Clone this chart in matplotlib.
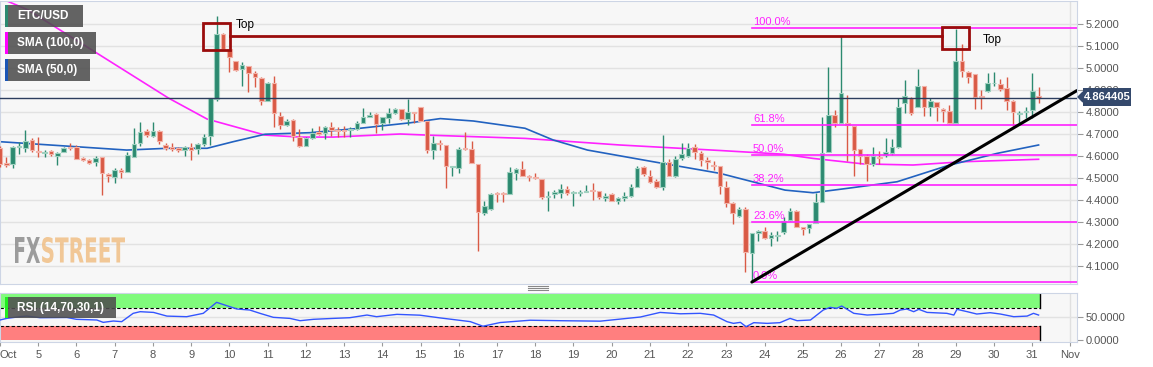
import numpy as np
import matplotlib.pyplot as plt
from matplotlib.patches import Rectangle, PathPatch
from matplotlib.lines import Line2D
from matplotlib.textpath import TextPath
from matplotlib.font_manager import FontProperties
from matplotlib.transforms import Affine2D

plt.rcParams['font.family'] = ['Liberation Sans', 'DejaVu Sans']

# 4h candles, ETC/USD, starting Oct 4 00:00
opens = [4.635, 4.570, 4.564, 4.639, 4.636, 4.673, 4.624, 4.612, 4.621, 4.598,
         4.617, 4.642, 4.639, 4.589, 4.580, 4.571, 4.594, 4.518, 4.503, 4.538,
         4.527, 4.594, 4.658, 4.715, 4.692, 4.715, 4.652, 4.639, 4.636, 4.627,
         4.642, 4.632, 4.655, 4.692, 4.859, 5.155, 5.085, 5.030, 4.995, 5.008,
         4.979, 4.955, 4.852, 4.930, 4.782, 4.742, 4.764, 4.688, 4.647, 4.682,
         4.708, 4.703, 4.733, 4.720, 4.718, 4.718, 4.721, 4.751, 4.779, 4.791,
         4.748, 4.773, 4.797, 4.812, 4.768, 4.798, 4.821, 4.758, 4.627, 4.659,
         4.648, 4.549, 4.544, 4.635, 4.630, 4.564, 4.339, 4.359, 4.430, 4.430,
         4.427, 4.521, 4.541, 4.508, 4.503, 4.495, 4.415, 4.427, 4.430, 4.450,
         4.433, 4.433, 4.438, 4.445, 4.439, 4.409, 4.427, 4.394, 4.409, 4.420,
         4.458, 4.548, 4.511, 4.488, 4.458, 4.571, 4.508, 4.589, 4.600, 4.639,
         4.612, 4.582, 4.561, 4.555, 4.461, 4.385, 4.329, 4.358, 4.158, 4.248,
         4.260, 4.226, 4.236, 4.253, 4.309, 4.352, 4.279, 4.273, 4.295, 4.389,
         4.617, 4.786, 4.748, 4.750, 4.735, 4.633, 4.600, 4.564, 4.597, 4.603,
         4.614, 4.642, 4.839, 4.864, 4.821, 4.918, 4.821, 4.844, 4.815, 4.806,
         4.748, 5.033, 4.980, 4.973, 4.874, 4.894, 4.930, 4.927, 4.909, 4.848,
         4.791, 4.802, 4.809, 4.874]
highs = [4.647, 4.594, 4.647, 4.662, 4.720, 4.680, 4.685, 4.627, 4.627, 4.617,
         4.642, 4.658, 4.650, 4.594, 4.586, 4.601, 4.597, 4.521, 4.545, 4.545,
         4.617, 4.727, 4.753, 4.723, 4.756, 4.718, 4.661, 4.659, 4.642, 4.647,
         4.658, 4.658, 4.700, 4.862, 5.238, 5.158, 5.088, 5.033, 5.026, 5.011,
         4.988, 4.958, 4.935, 4.965, 4.798, 4.767, 4.767, 4.723, 4.685, 4.727,
         4.738, 4.738, 4.753, 4.730, 4.738, 4.730, 4.761, 4.818, 4.802, 4.794,
         4.779, 4.818, 4.817, 4.812, 4.859, 4.798, 4.824, 4.761, 4.689, 4.673,
         4.648, 4.552, 4.642, 4.708, 4.667, 4.564, 4.394, 4.430, 4.435, 4.435,
         4.552, 4.545, 4.576, 4.514, 4.521, 4.495, 4.442, 4.445, 4.473, 4.465,
         4.442, 4.445, 4.470, 4.476, 4.442, 4.430, 4.430, 4.412, 4.435, 4.473,
         4.556, 4.556, 4.536, 4.495, 4.697, 4.586, 4.601, 4.658, 4.659, 4.655,
         4.621, 4.594, 4.576, 4.555, 4.488, 4.389, 4.367, 4.367, 4.248, 4.264,
         4.279, 4.253, 4.261, 4.321, 4.364, 4.355, 4.279, 4.291, 4.430, 4.779,
         5.006, 4.809, 5.147, 4.879, 4.735, 4.633, 4.609, 4.639, 4.621, 4.682,
         4.677, 4.864, 4.945, 4.867, 4.995, 4.918, 4.864, 4.844, 4.818, 4.833,
         5.177, 5.109, 4.988, 4.973, 4.900, 4.979, 4.980, 4.950, 4.958, 4.855,
         4.806, 4.821, 4.979, 4.912]
lows = [4.548, 4.548, 4.545, 4.609, 4.617, 4.617, 4.594, 4.594, 4.601, 4.559,
        4.617, 4.627, 4.586, 4.576, 4.564, 4.556, 4.424, 4.480, 4.477, 4.500,
        4.527, 4.594, 4.647, 4.688, 4.685, 4.655, 4.627, 4.624, 4.617, 4.598,
        4.582, 4.609, 4.647, 4.650, 4.852, 5.086, 4.983, 4.988, 4.920, 4.889,
        4.912, 4.832, 4.849, 4.733, 4.721, 4.738, 4.670, 4.642, 4.647, 4.677,
        4.697, 4.677, 4.692, 4.685, 4.685, 4.685, 4.718, 4.748, 4.776, 4.703,
        4.718, 4.751, 4.791, 4.764, 4.741, 4.752, 4.761, 4.612, 4.586, 4.627,
        4.455, 4.508, 4.521, 4.627, 4.568, 4.170, 4.333, 4.354, 4.389, 4.389,
        4.427, 4.491, 4.511, 4.488, 4.495, 4.405, 4.352, 4.408, 4.408, 4.424,
        4.374, 4.420, 4.435, 4.400, 4.405, 4.397, 4.394, 4.382, 4.397, 4.415,
        4.458, 4.511, 4.476, 4.453, 4.446, 4.508, 4.503, 4.582, 4.594, 4.586,
        4.555, 4.541, 4.536, 4.427, 4.367, 4.291, 4.321, 4.071, 4.026, 4.215,
        4.221, 4.192, 4.215, 4.245, 4.306, 4.279, 4.242, 4.248, 4.295, 4.389,
        4.617, 4.730, 4.748, 4.579, 4.511, 4.564, 4.485, 4.556, 4.564, 4.597,
        4.606, 4.636, 4.794, 4.788, 4.821, 4.783, 4.783, 4.761, 4.753, 4.745,
        4.748, 4.961, 4.930, 4.814, 4.812, 4.891, 4.920, 4.897, 4.809, 4.738,
        4.745, 4.773, 4.773, 4.841]
closes = [4.564, 4.561, 4.639, 4.647, 4.670, 4.627, 4.617, 4.617, 4.609, 4.614,
          4.636, 4.636, 4.586, 4.582, 4.570, 4.589, 4.521, 4.509, 4.536, 4.526,
          4.606, 4.655, 4.711, 4.695, 4.715, 4.670, 4.636, 4.633, 4.627, 4.642,
          4.627, 4.655, 4.688, 4.862, 5.155, 5.086, 5.048, 4.992, 5.014, 4.976,
          4.958, 4.852, 4.930, 4.794, 4.742, 4.761, 4.692, 4.647, 4.680, 4.703,
          4.700, 4.730, 4.718, 4.712, 4.715, 4.723, 4.748, 4.779, 4.786, 4.745,
          4.776, 4.794, 4.812, 4.767, 4.802, 4.794, 4.761, 4.627, 4.661, 4.655,
          4.555, 4.552, 4.632, 4.630, 4.568, 4.344, 4.371, 4.427, 4.427, 4.427,
          4.526, 4.541, 4.511, 4.503, 4.498, 4.415, 4.420, 4.435, 4.450, 4.430,
          4.438, 4.438, 4.442, 4.439, 4.412, 4.420, 4.397, 4.409, 4.417, 4.458,
          4.545, 4.518, 4.480, 4.458, 4.571, 4.508, 4.586, 4.609, 4.636, 4.617,
          4.582, 4.571, 4.553, 4.465, 4.385, 4.339, 4.359, 4.162, 4.248, 4.260,
          4.226, 4.241, 4.242, 4.303, 4.352, 4.279, 4.268, 4.291, 4.389, 4.614,
          4.786, 4.748, 4.886, 4.741, 4.627, 4.600, 4.564, 4.600, 4.592, 4.618,
          4.642, 4.821, 4.873, 4.794, 4.920, 4.821, 4.852, 4.824, 4.806, 4.748,
          5.033, 4.985, 4.958, 4.867, 4.870, 4.930, 4.933, 4.905, 4.848, 4.798,
          4.796, 4.806, 4.897, 4.864]
last_price = 4.864405

# moving averages (candle index, value)
sma100_idx = [0, 4.4, 26.4, 32.5, 41.6, 47.1, 52.3, 62.8, 67, 82.4, 97.3, 113,
              123, 127.6, 135.5, 143.3, 151.2, 163]
sma100_val = [5.318, 5.264, 4.864, 4.768, 4.695, 4.686, 4.686, 4.700, 4.695,
              4.680, 4.650, 4.625, 4.608, 4.589, 4.564, 4.559, 4.574, 4.585]
sma50_idx = [0, 10.5, 19.9, 26.2, 32.5, 36.6, 41.6, 48.7, 56.5, 64.4, 69.1,
             74.3, 82.4, 86.8, 92.2, 102.5, 113, 123.2, 127.6, 133, 140.8,
             148.7, 156.5, 163]
sma50_val = [4.665, 4.645, 4.627, 4.635, 4.635, 4.665, 4.699, 4.706, 4.726,
             4.751, 4.770, 4.759, 4.726, 4.673, 4.627, 4.574, 4.521, 4.445,
             4.433, 4.453, 4.483, 4.556, 4.612, 4.650]

rsi_idx = [0, 1.05, 3.1, 4.2, 6.3, 10.5, 12, 15.2, 16.2, 17.8, 19.1, 20.9, 22,
           24.1, 26.2, 29.3, 31.9, 34, 35.6, 37.2, 39.2, 40.8, 42.9, 45.5,
           47.1, 49.2, 52.3, 54.9, 57.6, 59.1, 62.3, 65.9, 69.1, 73.8, 75.8,
           78.5, 83.2, 87.9, 94.2, 100.5, 103.6, 106.8, 109.9, 112, 114.1,
           115.1, 116.2, 117.1, 118.3, 120.4, 122.4, 124, 125.1, 127.2, 129.2,
           130.3, 131.3, 132.1, 134, 136.1, 138.1, 140.2, 141.3, 142.3, 143.4,
           144.2, 145.5, 148.6, 149.7, 150.2, 151.8, 153.3, 155.4, 157, 159.1,
           161.2, 162.2, 163]
rsi_val = [43.5, 47, 50.7, 52, 48.5, 49, 45, 43.5, 38.4, 41.3, 39.9, 58, 61.6,
           60, 52, 50.7, 58, 81.9, 74.6, 67.4, 65.2, 58, 49.3, 47, 42, 45, 47,
           48.5, 54.3, 50.7, 55.8, 54, 48, 40, 30, 38, 43, 42, 41, 50, 60, 57,
           58, 54.3, 39.9, 36.2, 38.4, 29, 37.7, 36.2, 37.7, 47, 42, 43.5, 65.2,
           71, 68.8, 73.9, 58, 54.3, 55.8, 58, 65.2, 67.4, 61.6, 66.7, 60, 58,
           54.3, 66.7, 61.6, 56.5, 59.4, 56.5, 50.7, 52, 58, 54.3]

# drawings
fib_start = 118            # candle of the swing low
fib_low, fib_high = 4.027, 5.180
fib_levels = [0.0, 23.6, 38.2, 50.0, 61.8, 100.0]
trend_idx = [118, 169]
trend_val = [4.027, 4.897]
top_level = 5.145
top_boxes = [(34, 5.082, 5.205), (150, 5.086, 5.186)]

day_labels = ['Oct'] + [str(d) for d in range(5, 32)] + ['Nov']

GREEN, RED = '#2c8a70', '#d95a45'
GREEN_E, RED_E = '#9fd0bf', '#f2b2a8'
MAG, BLUE = '#ff22ff', '#2262c0'
W, H = 1153, 367

t = np.arange(len(opens)) / 6.0
xmax = 1077 / 38.23

fig = plt.figure(figsize=(W / 100, H / 100), dpi=100)
ax = fig.add_axes([0, 1 - 284 / H, 1077 / W, 283 / H])
rs = fig.add_axes([0, 1 - 342 / H, 1077 / W, 49 / H])

for a in (ax, rs):
    a.set_facecolor('#f7f7f7')
    a.set_xlim(0, xmax)
    for s in a.spines.values():
        s.set_color('#cdd5e5')
    a.yaxis.tick_right()
    a.tick_params(axis='y', length=4, pad=2, color='#999999',
                  labelcolor='#555555', labelsize=8)
    a.axvline(28, color='#e0e0e0', lw=1, zorder=0)

ax.set_ylim(4.0182, 5.3045)
ax.set_yticks(np.arange(4.1, 5.25, 0.1))
ax.yaxis.set_major_formatter(plt.FormatStrFormatter('%.4f'))
ax.grid(axis='y', color='#e2e2e2', lw=1)
ax.set_axisbelow(True)
ax.tick_params(axis='x', bottom=False, labelbottom=False)

# candles
o, h, l, c = map(np.array, (opens, highs, lows, closes))
up = c >= o
cols = np.where(up, GREEN, RED)
ecols = np.where(up, GREEN_E, RED_E)
ax.vlines(t, l, h, colors=cols, lw=1, zorder=3)
bh = np.maximum(np.abs(c - o), 0.004)
ax.bar(t, bh, bottom=np.minimum(o, c), width=0.12, color=cols,
       edgecolor=ecols, linewidth=0.8, zorder=4)

ax.plot(np.array(sma100_idx) / 6, sma100_val, color=MAG, lw=1.2, zorder=2)
ax.plot(np.array(sma50_idx) / 6, sma50_val, color=BLUE, lw=1.2, zorder=2)

# last price line
ax.axhline(last_price, color='#2c3d5e', lw=1, zorder=5)

# fibonacci retracement
for lv in fib_levels:
    y = fib_low + (fib_high - fib_low) * lv / 100
    ax.plot([fib_start / 6, xmax], [y, y], color=MAG, lw=1.2, zorder=5)
    ax.text(fib_start / 6 + 0.03, y + 0.006, f'{lv:.1f}%', color=MAG,
            fontsize=8, va='bottom', ha='left', zorder=6)

# trend line
ax.plot(np.array(trend_idx) / 6, trend_val, color='black', lw=2.2, zorder=6,
        solid_capstyle='round')

# "Top" boxes and resistance line
half = 0.355
for idx, lo_, hi_ in top_boxes:
    ax.add_patch(Rectangle((idx / 6 - half, lo_), 2 * half, hi_ - lo_,
                           fill=False, ec='#9a0c0c', lw=2, zorder=7))
ax.plot([top_boxes[0][0] / 6 + half, top_boxes[1][0] / 6 - half],
        [top_level, top_level], color='#9a0c0c', lw=2, zorder=7)
ax.text(top_boxes[0][0] / 6 + half + 0.15, 5.195, 'Top', fontsize=8.5, va='center')
ax.text(top_boxes[1][0] / 6 + half + 0.35, 5.125, 'Top', fontsize=8.5, va='center')

# RSI panel
rs.set_ylim(-4.3, 102.2)
rs.set_yticks([0, 50])
rs.yaxis.set_major_formatter(plt.FormatStrFormatter('%.4f'))
rs.axhline(50, color='#e2e2e2', lw=1, zorder=0)
band_end = 27.2
rs.add_patch(Rectangle((0, 70), band_end, 30, color='#80fb7c', zorder=1, lw=0))
rs.add_patch(Rectangle((0, 0), band_end, 30, color='#ff7f7f', zorder=1, lw=0))
for yv in (70, 30):
    rs.plot([0, band_end], [yv, yv], color='black', lw=0.8, ls=(0, (3, 2)), zorder=2)
rs.plot([band_end, band_end], [70, 100], color='black', lw=1, zorder=2)
rs.plot([band_end, band_end], [0, 30], color='black', lw=1, zorder=2)
rs.plot(np.array(rsi_idx) / 6, rsi_val, color='#3355ff', lw=1, zorder=3)
rs.set_xticks(np.arange(0, 29))
rs.set_xticklabels(day_labels)
rs.tick_params(axis='x', length=3, color='#999999', labelcolor='#555555',
               labelsize=8, pad=3)
rs.get_xticklabels()[0].set_ha('left')


def fx(x):
    return x / W


def fy(y):
    return 1 - y / H


# legend boxes
legend = [('ETC/USD', GREEN, 5, 83, 5, 27),
          ('SMA (100,0)', '#ff00ff', 5, 96, 32, 54),
          ('SMA (50,0)', '#1a55b5', 5, 90, 59, 81),
          ('RSI (14,70,30,1)', '#22ee22', 5, 116, 297, 318)]
for txt, col, x0, x1, y0, y1 in legend:
    fig.add_artist(Rectangle((fx(x0), fy(y1)), fx(x1 - x0), (y1 - y0) / H,
                             transform=fig.transFigure, color='#4e4e4e',
                             alpha=0.88, lw=0, zorder=10))
    fig.add_artist(Rectangle((fx(x0), fy(y1)), fx(2.5), (y1 - y0) / H,
                             transform=fig.transFigure, color=col, lw=0,
                             zorder=11))
    fig.text(fx(x0 + 12), fy((y0 + y1) / 2), txt, color='white', fontsize=8.5,
             fontweight='bold', va='center', ha='left', zorder=12)

# price tag
fig.add_artist(Rectangle((fx(1083), fy(106)), fx(48), 18 / H,
                         transform=fig.transFigure, color='#34496c', lw=0,
                         zorder=10))
fig.add_artist(plt.Polygon([[fx(1078), fy(97)], [fx(1083), fy(92)],
                            [fx(1083), fy(102)]], closed=True,
                           transform=fig.transFigure, color='#34496c', zorder=10))
fig.text(fx(1107), fy(97), f'{last_price:.6f}', color='white', fontsize=8,
         fontweight='bold', ha='center', va='center', zorder=11)

# panel grip
for dy in (286, 288, 290):
    fig.add_artist(Line2D([fx(528), fx(548)], [fy(dy), fy(dy)],
                          transform=fig.transFigure, color='#888888', lw=0.8))

# watermark, squeezed into its box
wm_font = FontProperties(family='DejaVu Sans', weight='bold')


def squeezed(s, x0, x1, y0, y1, color):
    p = TextPath((0, 0), s, size=20, prop=wm_font)
    e = p.get_extents()
    tr = (Affine2D().translate(-e.x0, -e.y0)
          .scale((x1 - x0) / e.width / W, (y1 - y0) / e.height / H)
          .translate(fx(x0), fy(y1)) + fig.transFigure)
    fig.add_artist(PathPatch(p, transform=tr, color=color, lw=0, alpha=0.85,
                             zorder=1))


squeezed('FX', 15, 40, 237, 263, '#8c8c8c')
squeezed('STREET', 42, 125, 237, 263, '#f0bf85')

fig.savefig('out.png', dpi=100)
